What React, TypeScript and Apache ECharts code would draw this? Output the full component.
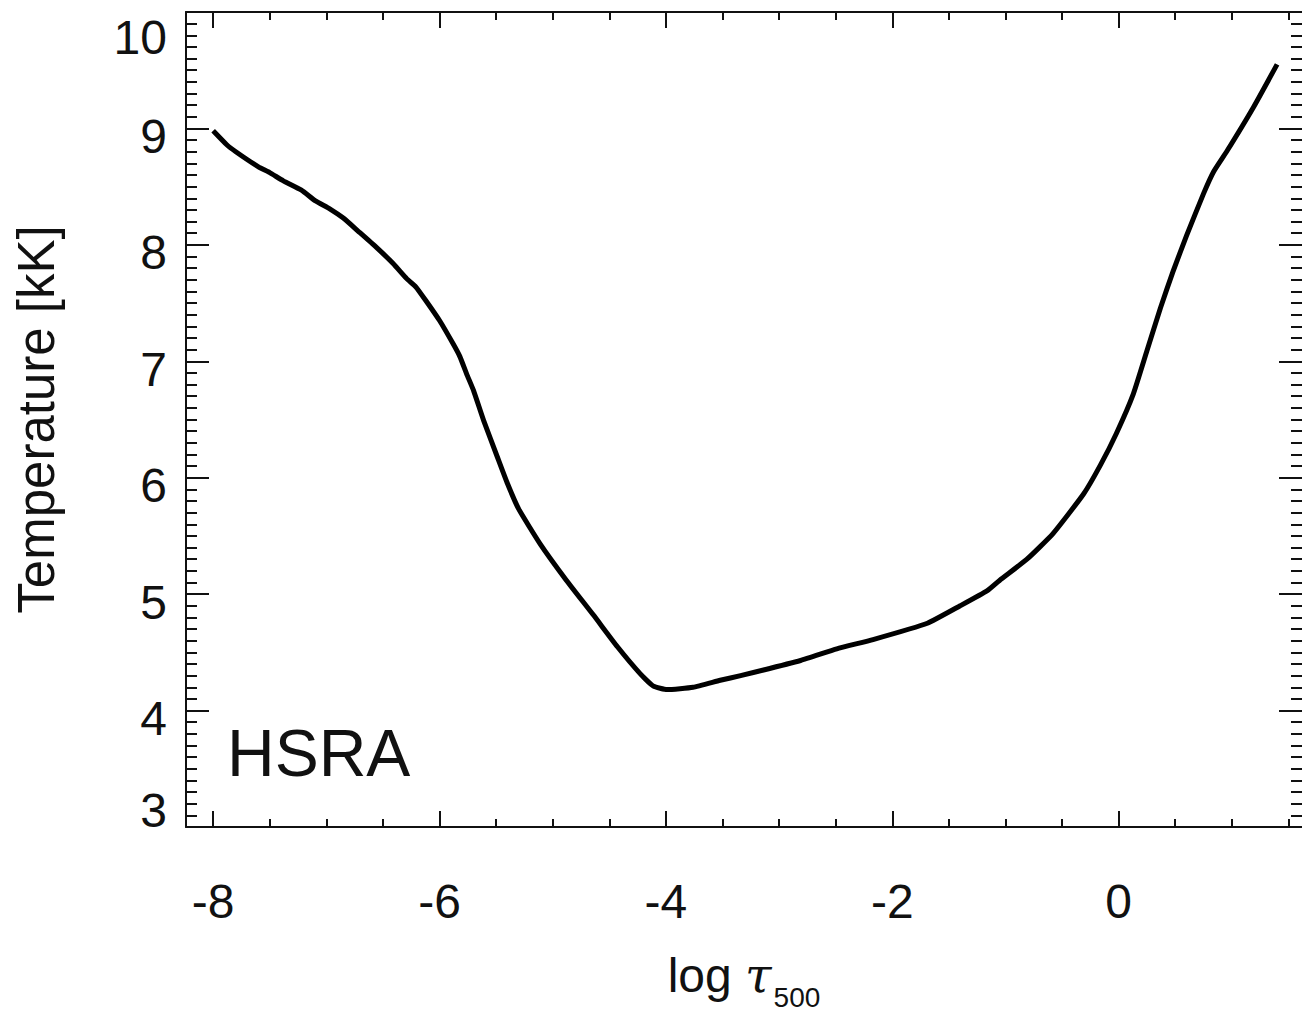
import React, { useEffect, useRef } from "react";
import * as echarts from "echarts";

// log tau_500 (x) and temperature in kK (y)
const logTau = [
  -8.0, -7.88, -7.8, -7.6, -7.5, -7.38, -7.22, -7.1, -6.97, -6.85, -6.71, -6.56,
  -6.41, -6.29, -6.21, -6.12, -6.0, -5.88, -5.82, -5.76, -5.7, -5.61, -5.49, -5.4,
  -5.3, -5.11, -4.88, -4.64, -4.43, -4.23, -4.11, -3.99, -3.76, -3.52, -3.34,
  -2.81, -2.49, -2.17, -1.69, -1.4, -1.16, -1.05, -0.81, -0.58, -0.31, -0.16,
  -0.02, 0.13, 0.25, 0.37, 0.48, 0.6, 0.75, 0.84, 0.96, 1.19, 1.4,
];
const tempKK = [
  8.98, 8.86, 8.8, 8.67, 8.62, 8.55, 8.47, 8.38, 8.31, 8.23, 8.11, 7.98,
  7.84, 7.71, 7.64, 7.52, 7.35, 7.15, 7.04, 6.89, 6.75, 6.49, 6.18, 5.95,
  5.73, 5.43, 5.12, 4.82, 4.55, 4.32, 4.21, 4.18, 4.2, 4.26, 4.3,
  4.43, 4.53, 4.61, 4.75, 4.9, 5.03, 5.12, 5.3, 5.52, 5.86, 6.11,
  6.38, 6.72, 7.09, 7.46, 7.77, 8.08, 8.44, 8.63, 8.81, 9.18, 9.55,
];

const xMajorTicks = [-8, -6, -4, -2, 0];
const xMinorTicks = [-7.5, -7, -6.5, -5.5, -5, -4.5, -3.5, -3, -2.5, -1.5, -1, -0.5, 0.5, 1, 1.5];
const xMin = -8.24;
const xMax = 1.62;
const yMin = 3;
const yMax = 10;

const FONT = "'Liberation Sans', 'Helvetica Neue', Helvetica, Arial, sans-serif";
const INK = "#111";

export default function App() {
  const ref = useRef<HTMLDivElement>(null);
  useEffect(() => {
    if (!ref.current) return;
    const chart = echarts.init(ref.current, undefined, { renderer: "svg" });
    const data = logTau.map((x, i) => [x, tempKK[i]]);

    const lineOn = { show: true, onZero: false, lineStyle: { color: INK, width: 2 } };
    const lineOff = { show: false, onZero: false };

    const xBase = (extra: any) => ({
      type: "value",
      min: xMin,
      max: xMax,
      splitLine: { show: false },
      axisLine: lineOn,
      ...extra,
    });

    const yBase = (extra: any) => ({
      type: "value",
      min: yMin,
      max: yMax,
      interval: 1,
      splitLine: { show: false },
      axisLine: lineOn,
      axisTick: { show: true, inside: true, length: 23, lineStyle: { color: INK, width: 2 } },
      minorTick: { show: true, splitNumber: 10, length: 11, lineStyle: { color: INK, width: 2 } },
      minorSplitLine: { show: false },
      ...extra,
    });

    chart.setOption({
      animation: false,
      backgroundColor: "#fff",
      grid: { left: 186, top: 12, right: 0, bottom: 188, containLabel: false, outerBoundsMode: "none" },
      xAxis: [
        xBase({
          position: "bottom",
          axisTick: { show: true, inside: true, length: 16, customValues: xMajorTicks, lineStyle: { color: INK, width: 2 } },
          axisLabel: {
            show: true,
            customValues: xMajorTicks,
            margin: 50,
            fontSize: 48,
            fontFamily: FONT,
            color: INK,
          },
          name: "{a|log }{t|τ}{s|500}",
          nameLocation: "middle",
          nameGap: 124,
          nameTextStyle: {
            color: INK,
            fontFamily: FONT,
            fontSize: 48,
            rich: {
              a: { fontSize: 48, lineHeight: 48, fontFamily: FONT, color: INK, verticalAlign: "top" },
              t: { fontSize: 48, lineHeight: 48, fontFamily: "'DejaVu Serif', 'Liberation Serif', serif", fontStyle: "italic", color: INK, verticalAlign: "top" },
              s: { fontSize: 28, lineHeight: 28, padding: [32, 0, 0, 2], fontFamily: FONT, color: INK, verticalAlign: "top" },
            },
          },
        }),
        xBase({
          position: "bottom",
          axisLine: lineOff,
          axisTick: { show: true, inside: true, length: 8, customValues: xMinorTicks, lineStyle: { color: INK, width: 2 } },
          axisLabel: { show: false },
        }),
        xBase({
          position: "top",
          axisTick: { show: true, inside: true, length: 16, customValues: xMajorTicks, lineStyle: { color: INK, width: 2 } },
          axisLabel: { show: false },
        }),
        xBase({
          position: "top",
          axisLine: lineOff,
          axisTick: { show: true, inside: true, length: 8, customValues: xMinorTicks, lineStyle: { color: INK, width: 2 } },
          axisLabel: { show: false },
        }),
      ],
      yAxis: [
        yBase({
          position: "left",
          axisLabel: {
            show: true,
            margin: 19,
            fontSize: 48,
            fontFamily: FONT,
            color: INK,
            formatter: (v: number) => (v === yMax ? `{top|${v}}` : v === yMin ? `{bot|${v}}` : `{mid|${v}}`),
            rich: {
              top: { fontSize: 48, fontFamily: FONT, color: INK, padding: [51, 0, 0, 0] },
              mid: { fontSize: 48, fontFamily: FONT, color: INK, padding: [16, 0, 0, 0] },
              bot: { fontSize: 48, fontFamily: FONT, color: INK, padding: [0, 0, 34, 0] },
            },
          },
          name: "Temperature [kK]",
          nameLocation: "middle",
          nameGap: 124,
          nameTextStyle: { fontSize: 51, fontFamily: FONT, color: INK },
        }),
        yBase({
          position: "right",
          axisLine: lineOff,
          axisLabel: { show: false },
        }),
      ],
      graphic: [
        {
          type: "text",
          left: 227,
          top: 752.5 - 33,
          style: { text: "HSRA", fontSize: 66, fontFamily: FONT, fill: INK },
        },
      ],
      series: [
        {
          type: "line",
          xAxisIndex: 0,
          yAxisIndex: 0,
          data,
          showSymbol: false,
          symbol: "none",
          smooth: 0.15,
          lineStyle: { color: "#000", width: 5, cap: "butt", join: "round" },
        },
      ],
    });
    return () => chart.dispose();
  }, []);

  return (
    <div
      ref={ref}
      style={{ position: "absolute", left: 0, top: 0, width: 1302, height: 1015, background: "#fff" }}
    />
  );
}
